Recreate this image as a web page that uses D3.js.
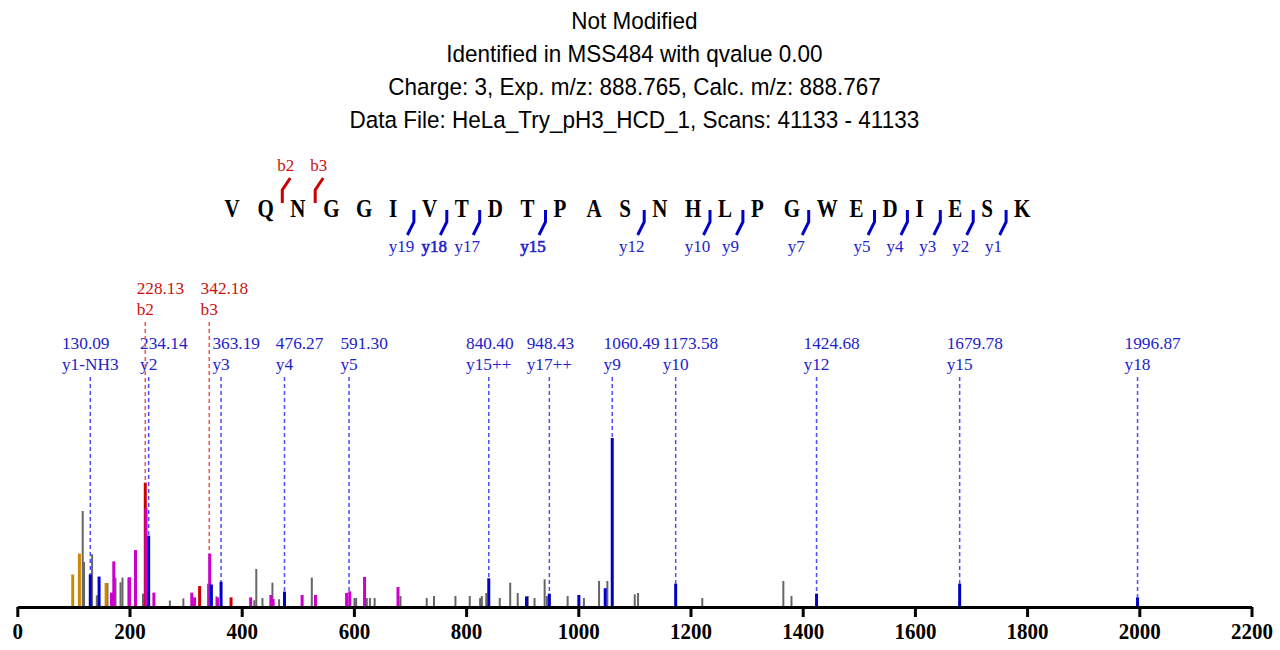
<!DOCTYPE html>
<html><head><meta charset="utf-8">
<script src="https://cdn.jsdelivr.net/npm/d3@7"></script>
<style>body{margin:0;background:#fff}svg{display:block}</style>
</head><body><svg id="c" width="1280" height="650"></svg>
<script>
// ---------- data ----------
const titleLines = [
  "Not Modified",
  "Identified in MSS484 with qvalue 0.00",
  "Charge: 3, Exp. m/z: 888.765, Calc. m/z: 888.767",
  "Data File: HeLa_Try_pH3_HCD_1, Scans: 41133 - 41133"
];
const sequence = "VQNGGIVTDTPASNHLPGWEDIESK".split("");
const bIonNums = [2, 3];
const yIonNums = [19, 18, 17, 15, 12, 10, 9, 7, 5, 4, 3, 2, 1];
const yIonBold = [18, 15];

const xTickValues = [0, 200, 400, 600, 800, 1000, 1200, 1400, 1600, 1800, 2000, 2200];

// unannotated peaks (relative intensity %)
const grayMz  = [116.6,119,133.3,141.7,160.7,175,184,187.5,198,224,272,296,340,355,422.5,426,437,454.8,466.6,525,601,604,623,628.6,637,683,729.8,742.8,781,806.5,825,828,836,860,878.6,892,910,922,940,944,981,1010,1037,1051.8,1100.6,1106.5,1221,1365.5,1380];
const grayInt = [56.8,26.6,31.2,6.9,14.2,17.4,14.6,17.4,17.4,7.9,3.8,5.1,13.8,6.3,4.0,22.5,5.3,14.4,4.6,17.4,5.3,5.3,5.3,5.3,5.3,6.5,5.3,6.5,6.5,6.5,5.3,6.5,8.3,5.3,14.4,8.3,6.5,5.3,16.4,6.5,6.5,5.3,15.4,15.4,7.5,8.3,5.3,15.4,6.5];

const orangeMz  = [98.8, 110.7, 158.3];
const orangeInt = [19.2, 31.6, 14.2];

const magentaMz  = [167.9,172,200,210.7,229.5,243.5,311,316,342.9,357,416,452,456,507.7,531.5,587,592.6,619,678.6];
const magentaInt = [8.5,27.0,17.6,33.7,58.6,8.5,8.5,5.7,31.6,5.7,5.7,7.1,4.7,7.1,7.1,8.3,9.3,17.8,11.8];

const redMz  = [228.13, 325, 381];
const redInt = [73.6, 12.4, 5.7];

const blueMz  = [130.09,145.8,234.14,346,363.19,476.27,840.40,907.7,948.43,1001,1048,1060.49,1173.58,1424.68,1679.78,1996.87];
const blueInt = [19.3,18.0,42.2,13.3,15.0,9.1,17.0,6.2,7.9,7.1,11.1,100,13.8,7.9,13.8,5.7];

// annotated fragment ions
const yAnnMz    = [130.09,234.14,363.19,476.27,591.30,840.40,948.43,1060.49,1173.58,1424.68,1679.78,1996.87];
const yAnnLabel = ["y1-NH3","y2","y3","y4","y5","y15++","y17++","y9","y10","y12","y15","y18"];
const yAnnInt   = [19.3,42.2,15.0,9.1,9.3,17.0,7.9,100,13.8,7.9,13.8,5.7];
const bAnnMz    = [228.13, 342.18];
const bAnnLabel = ["b2", "b3"];
const bAnnInt   = [73.6, 31.6];

// ---------- drawing ----------
const svg = d3.select("#c");
const BLUE = "#0000c8", RED = "#cc0000", MAG = "#cc00cc", ORANGE = "#cc8800", GRAY = "#666666";
const BLUE_T = "#2222cc", RED_T = "#cc1111";
const serif = "'Liberation Serif','Times New Roman',serif";
const sans = "'Liberation Sans',Arial,sans-serif";

const x = d3.scaleLinear().domain([0, 2200]).range([17.3, 1251.5]);
const y = d3.scaleLinear().domain([0, 100]).range([607, 438]);

// titles
svg.append("g").selectAll("text").data(titleLines).join("text")
  .attr("transform", (d, i) => `translate(${(x(0) + x(2200)) / 2},${29 + i * 33}) scale(1,1.08)`)
  .attr("text-anchor", "middle")
  .attr("font-family", sans).attr("font-size", 22.5).attr("fill", "#000")
  .text(d => d);

// sequence
const seqX = d3.scaleLinear().domain([0, sequence.length - 1]).range([224.5, 1014.1]);
const seqG = svg.append("g");
seqG.selectAll("text").data(sequence).join("text")
  .attr("transform", (d, i) => `translate(${seqX(i)},217) scale(1,1.2)`)
  .attr("font-family", serif).attr("font-weight", "bold").attr("font-size", 21)
  .attr("fill", "#000").text(d => d);

// b markers (above)
bIonNums.forEach(n => {
  const mx = seqX(n) - 8;
  seqG.append("path").attr("d", `M${mx},203V190L${mx + 8},178`)
    .attr("fill", "none").attr("stroke", RED).attr("stroke-width", 3);
  seqG.append("text").attr("x", mx + 3.5).attr("y", 171).attr("text-anchor", "middle")
    .attr("font-family", serif).attr("font-size", 17).attr("fill", RED_T).text("b" + n);
});
// y markers (below)
yIonNums.forEach(n => {
  const mx = seqX(sequence.length - n) - 8;
  seqG.append("path").attr("d", `M${mx},210V222L${mx - 6.5},235`)
    .attr("fill", "none").attr("stroke", BLUE).attr("stroke-width", 3);
  const t = seqG.append("text").attr("x", mx - 12.5).attr("y", 252).attr("text-anchor", "middle")
    .attr("font-family", serif).attr("font-size", 17).attr("fill", BLUE_T).text("y" + n);
  if (yIonBold.includes(n)) t.attr("stroke", BLUE_T).attr("stroke-width", 0.6);
});

// annotation labels + dashed lines
function annotate(mzs, labels, ints, color, lineColor, topNum, topName, lineTop) {
  const g = svg.append("g");
  mzs.forEach((mz, i) => {
    const px = x(mz);
    g.append("line").attr("x1", px).attr("x2", px).attr("y1", lineTop).attr("y2", y(ints[i]))
      .attr("stroke", lineColor).attr("stroke-width", 1.5).attr("stroke-dasharray", "4,3");
    const nm = g.append("text").attr("x", px).attr("y", topName).attr("text-anchor", "middle")
      .attr("font-family", serif).attr("font-size", 17.3).attr("fill", color).text(labels[i]);
    const bb = nm.node().getBBox();
    nm.attr("text-anchor", "start").attr("x", bb.x);
    g.append("text").attr("x", bb.x).attr("y", topNum)
      .attr("font-family", serif).attr("font-size", 17.3).attr("fill", color).text(mz.toFixed(2));
  });
}
annotate(yAnnMz, yAnnLabel, yAnnInt, BLUE_T, "#4d4dff", 349, 370, 377);
annotate(bAnnMz, bAnnLabel, bAnnInt, RED_T, "#ff4d4d", 294, 315, 322);

// peaks
function peaks(mzs, ints, color, w) {
  svg.append("g").selectAll("line").data(mzs).join("line")
    .attr("x1", d => x(d)).attr("x2", d => x(d))
    .attr("y1", y(0)).attr("y2", (d, i) => y(ints[i]))
    .attr("stroke", color).attr("stroke-width", w);
}
peaks(grayMz, grayInt, GRAY, 2);
peaks(orangeMz, orangeInt, ORANGE, 3);
peaks(redMz, redInt, RED, 3);
peaks(magentaMz, magentaInt, MAG, 3);
peaks(blueMz, blueInt, BLUE, 3);

// axis
const ax = svg.append("g").attr("transform", `translate(0,${y(0)})`)
  .call(d3.axisBottom(x).tickValues(xTickValues).tickSize(10).tickSizeOuter(0).tickFormat(d3.format("d")));
ax.select(".domain").attr("stroke", "#000").attr("stroke-width", 3);
ax.selectAll(".tick line").attr("stroke", "#000").attr("stroke-width", 3);
ax.selectAll(".tick text").attr("y", 0).attr("dy", 0)
  .attr("transform", "translate(0,32) scale(1,1.12)")
  .attr("font-family", serif).attr("font-weight", "bold").attr("font-size", 21).attr("fill", "#000");
</script></body></html>
